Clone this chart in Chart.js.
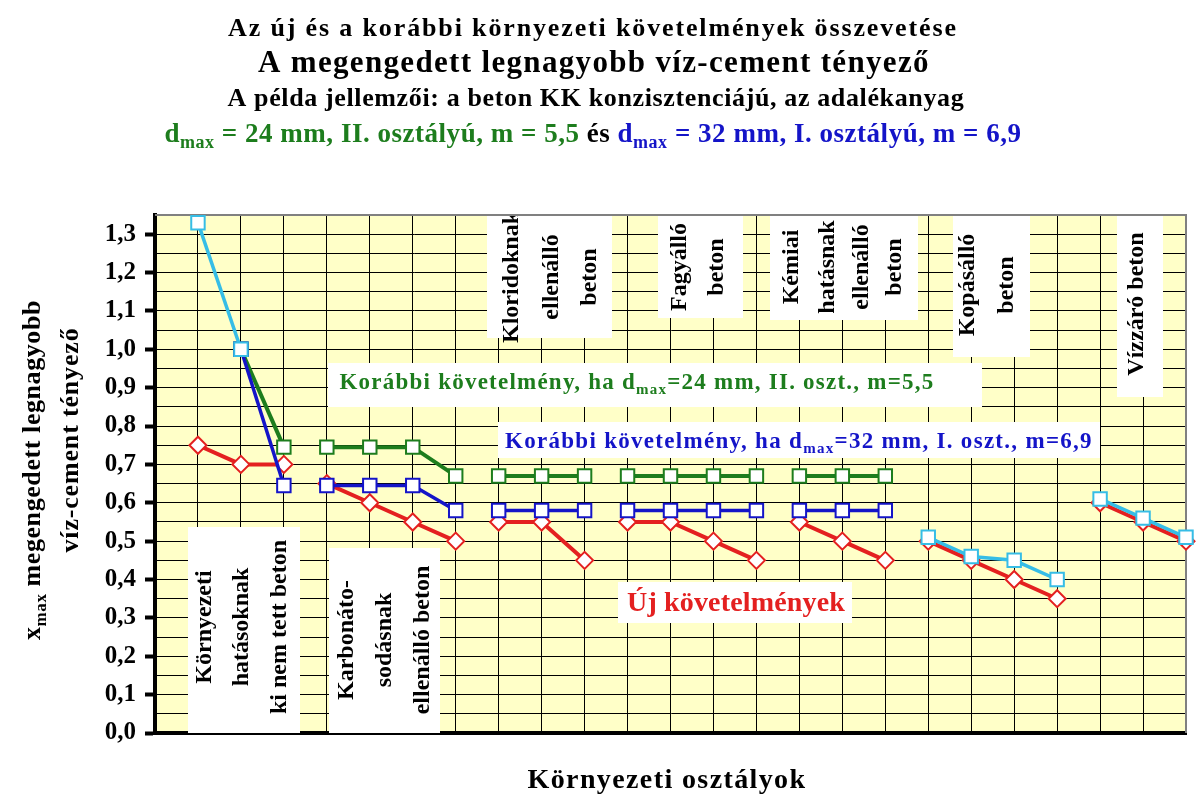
<!DOCTYPE html>
<html lang="hu">
<head>
<meta charset="utf-8">
<title>A megengedett legnagyobb víz-cement tényező</title>
<script src="https://cdn.jsdelivr.net/npm/chart.js@4.4.1/dist/chart.umd.min.js"></script>
<style>
  html, body { margin: 0; padding: 0; background: #fff; }
  canvas { display: block; }
</style>
</head>
<body>
<canvas id="vcChart" width="1201" height="806"></canvas>
<script>
// Környezeti osztályok (a tengelyen nem látszanak, csak a helyüket adják)
const osztalyok = ['X0b', 'X0v', 'XN(H)', 'XC1', 'XC2', 'XC3', 'XC4', 'XD1', 'XD2', 'XD3',
    'XF1', 'XF2', 'XF3', 'XF4', 'XA1', 'XA2', 'XA3', 'XK1', 'XK2', 'XK3', 'XK4', 'XV1', 'XV2', 'XV3'];

// Csoport sorszáma osztályonként - a vonal csak csoporton belül fut
const csoportok = [0, 0, 0, 1, 1, 1, 1, 2, 2, 2, 3, 3, 3, 3, 4, 4, 4, 5, 5, 5, 5, 6, 6, 6];

// Új követelmények
const ujKovetelmenyek = [0.75, 0.70, 0.70, 0.65, 0.60, 0.55, 0.50, 0.55, 0.55, 0.45,
    0.55, 0.55, 0.50, 0.45, 0.55, 0.50, 0.45, 0.50, 0.45, 0.40, 0.35, 0.60, 0.55, 0.50];

// Korábbi követelmény, dmax = 24 mm, II. osztály, m = 5,5
const korabbi24 = [null, 1.00, 0.745, 0.745, 0.745, 0.745, 0.67, 0.67, 0.67, 0.67,
    0.67, 0.67, 0.67, 0.67, 0.67, 0.67, 0.67, null, null, null, null, null, null, null];

// Korábbi követelmény, dmax = 32 mm, I. osztály, m = 6,9
const korabbi32 = [null, 1.00, 0.645, 0.645, 0.645, 0.645, 0.58, 0.58, 0.58, 0.58,
    0.58, 0.58, 0.58, 0.58, 0.58, 0.58, 0.58, null, null, null, null, null, null, null];

// Korábbi követelmény, mindkét adalékanyagra közös
const korabbiKozos = [1.33, 1.00, null, null, null, null, null, null, null, null,
    null, null, null, null, null, null, null, 0.51, 0.46, 0.45, 0.40, 0.61, 0.56, 0.51];

// Y tengely feliratai (0,1-enként)
const yFeliratok = ['0,0', '0,1', '0,2', '0,3', '0,4', '0,5', '0,6', '0,7', '0,8', '0,9', '1,0', '1,1', '1,2', '1,3'];

// Csoportfeliratok a fehér dobozokban
const csoportFeliratok = [
    ['Környezeti', 'hatásoknak', 'ki nem tett beton'],
    ['Karbonáto-', 'sodásnak', 'ellenálló beton'],
    ['Kloridoknak', 'ellenálló', 'beton'],
    ['Fagyálló', 'beton'],
    ['Kémiai', 'hatásnak', 'ellenálló', 'beton'],
    ['Kopásálló', 'beton'],
    ['Vízzáró beton']
];

// Színek
const PIROS = '#e42020';
const ZOLD = '#1d7d1d';
const KEK = '#1414c8';
const VILAGOSKEK = '#36bde6';

// Feliratdobozok helye (pixelben): [bal, felső, jobb, alsó], oszlopok x-e, közép y
const dobozHelyek = [
    { doboz: [188, 527, 300, 733], oszlopok: [205, 242, 280], kozepY: 627 },
    { doboz: [329, 548, 440, 733], oszlopok: [347, 385, 423], kozepY: 640 },
    { doboz: [487, 215, 612, 338], oszlopok: [512, 552, 590], kozepY: 277 },
    { doboz: [658, 215, 743, 318], oszlopok: [680, 717], kozepY: 267 },
    { doboz: [770, 215, 918, 320], oszlopok: [792, 828, 862, 895], kozepY: 267 },
    { doboz: [953, 215, 1030, 357], oszlopok: [968, 1007], kozepY: 285 },
    { doboz: [1117, 215, 1163, 397], oszlopok: [1137], kozepY: 304 }
];

function betu(meret) {
    return 'bold ' + meret + 'px "Liberation Serif", "Times New Roman", serif';
}

// Több darabból álló (színes, alsó indexes) szövegsor, adott szélességre igazítva
function szovegSor(ctx, darabok, kozepX, alapY, meret, celSzelesseg) {
    ctx.save();
    ctx.textAlign = 'left';
    ctx.textBaseline = 'alphabetic';
    ctx.letterSpacing = '0px';
    let termeszetes = 0;
    let betukSzama = 0;
    const szelessegek = darabok.map(d => {
        ctx.font = betu(d.also ? Math.round(meret * 0.65) : meret);
        const w = ctx.measureText(d.t).width;
        termeszetes += w;
        betukSzama += [...d.t].length;
        return w;
    });
    let koz = 0;
    let nyujtas = 1;
    if (celSzelesseg) {
        if (celSzelesseg >= termeszetes) {
            koz = (celSzelesseg - termeszetes) / betukSzama;
        } else {
            nyujtas = celSzelesseg / termeszetes;
        }
    }
    ctx.letterSpacing = koz.toFixed(2) + 'px';
    ctx.translate(kozepX, alapY);
    ctx.scale(nyujtas, 1);
    let x = -(termeszetes + koz * betukSzama) / 2;
    darabok.forEach((d, i) => {
        ctx.font = betu(d.also ? Math.round(meret * 0.65) : meret);
        ctx.fillStyle = d.szin || '#000';
        ctx.fillText(d.t, x, d.also ? meret * 0.22 : 0);
        x += szelessegek[i] + koz * [...d.t].length;
    });
    ctx.restore();
}

// Háttér a rajzterületen
const hatterPlugin = {
    id: 'hatter',
    beforeDraw(chart) {
        const { ctx, chartArea: a } = chart;
        ctx.save();
        ctx.fillStyle = '#ffffc8';
        ctx.fillRect(a.left, a.top, a.right - a.left, a.bottom - a.top);
        ctx.restore();
    }
};

// Fehér dobozok, feliratok és a szürke keret
const feliratPlugin = {
    id: 'feliratok',
    beforeDatasetsDraw(chart) {
        const { ctx, chartArea: a } = chart;
        ctx.save();
        ctx.beginPath();
        ctx.rect(a.left, a.top, a.right - a.left, a.bottom - a.top);
        ctx.clip();

        // Függőleges csoportfeliratok
        dobozHelyek.forEach((hely, i) => {
            const [b, f, j, l] = hely.doboz;
            ctx.fillStyle = '#fff';
            ctx.fillRect(b, f, j - b, l - f);
            ctx.fillStyle = '#000';
            ctx.font = betu(24);
            ctx.textAlign = 'center';
            ctx.textBaseline = 'middle';
            csoportFeliratok[i].forEach((sor, k) => {
                ctx.save();
                ctx.translate(hely.oszlopok[k], hely.kozepY);
                ctx.rotate(-Math.PI / 2);
                ctx.fillText(sor, 0, 0);
                ctx.restore();
            });
        });

        // Vízszintes jelmagyarázat-dobozok
        ctx.fillStyle = '#fff';
        ctx.fillRect(328, 363, 982 - 328, 407 - 363);
        ctx.fillRect(498, 422, 1100 - 498, 458 - 422);
        ctx.fillRect(618, 582, 852 - 618, 623 - 582);
        ctx.restore();

        szovegSor(ctx, [
            { t: 'Korábbi követelmény, ha d', szin: ZOLD },
            { t: 'max', szin: ZOLD, also: true },
            { t: '=24 mm, II. oszt., m=5,5', szin: ZOLD }
        ], 637, 389, 23, 595);
        szovegSor(ctx, [
            { t: 'Korábbi követelmény, ha d', szin: KEK },
            { t: 'max', szin: KEK, also: true },
            { t: '=32 mm, I. oszt., m=6,9', szin: KEK }
        ], 799, 448, 23, 588);
        szovegSor(ctx, [{ t: 'Új követelmények', szin: PIROS }], 736, 611, 28, 218);

        // Szürke keret felül és jobbra
        ctx.save();
        ctx.strokeStyle = '#808080';
        ctx.lineWidth = 2;
        ctx.beginPath();
        ctx.moveTo(a.left, a.top);
        ctx.lineTo(a.right, a.top);
        ctx.lineTo(a.right, a.bottom);
        ctx.stroke();
        ctx.restore();
    },
    afterDraw(chart) {
        const ctx = chart.ctx;
        // Címsorok
        szovegSor(ctx, [{ t: 'Az új és a korábbi környezeti követelmények összevetése' }], 593, 36, 26, 730);
        szovegSor(ctx, [{ t: 'A megengedett legnagyobb víz-cement tényező' }], 594, 72, 31, 672);
        szovegSor(ctx, [{ t: 'A példa jellemzői: a beton KK konzisztenciájú, az adalékanyag' }], 596, 106, 26, 737);
        szovegSor(ctx, [
            { t: 'd', szin: ZOLD },
            { t: 'max', szin: ZOLD, also: true },
            { t: ' = 24 mm, II. osztályú, m = 5,5', szin: ZOLD },
            { t: ' és ', szin: '#000' },
            { t: 'd', szin: KEK },
            { t: 'max', szin: KEK, also: true },
            { t: ' = 32 mm, I. osztályú, m = 6,9', szin: KEK }
        ], 593, 142, 27, 857);

        // X tengely címe
        szovegSor(ctx, [{ t: 'Környezeti osztályok' }], 667, 788, 28, 279);

        // Y tengely címe (két sor, elforgatva)
        ctx.save();
        ctx.translate(40, 470);
        ctx.rotate(-Math.PI / 2);
        szovegSor(ctx, [
            { t: 'x' },
            { t: 'max', also: true },
            { t: ' megengedett legnagyobb' }
        ], 0, 0, 26, 340);
        ctx.restore();
        ctx.save();
        ctx.translate(78, 440);
        ctx.rotate(-Math.PI / 2);
        szovegSor(ctx, [{ t: 'víz-cement tényező' }], 0, 0, 26, 225);
        ctx.restore();
    }
};

// Adatsor: az első (üres) hely a bal szél, utána az osztályok
function sor(ertekek) {
    return [null].concat(ertekek);
}

// Vonal csak egy csoporton belül
function szakasz(szin) {
    return ctx => {
        const c0 = csoportok[ctx.p0DataIndex - 1];
        const c1 = csoportok[ctx.p1DataIndex - 1];
        return c0 === c1 ? szin : 'rgba(0,0,0,0)';
    };
}

function adatsor(cimke, ertekek, szin, vastagsag, alak, sugar) {
    return {
        label: cimke,
        data: sor(ertekek),
        borderColor: szin,
        borderWidth: vastagsag,
        backgroundColor: '#fff',
        pointStyle: alak,
        pointRadius: sugar,
        pointBorderWidth: 2,
        pointBorderColor: szin,
        pointBackgroundColor: '#fff',
        spanGaps: false,
        tension: 0,
        clip: false,
        segment: { borderColor: szakasz(szin) }
    };
}

function rajzol() {
    console.log('Grafikon rajzolása...');
    try {
        const canvas = document.getElementById('vcChart');
        const ctx = canvas.getContext('2d');

        new Chart(ctx, {
            type: 'line',
            data: {
                labels: [''].concat(osztalyok),
                datasets: [
                    adatsor('Korábbi követelmény (közös)', korabbiKozos, VILAGOSKEK, 3.5, 'rect', 9.5),
                    adatsor('Korábbi követelmény, dmax=32 mm', korabbi32, KEK, 3.5, 'rect', 9.5),
                    adatsor('Korábbi követelmény, dmax=24 mm', korabbi24, ZOLD, 4, 'rect', 9.5),
                    adatsor('Új követelmények', ujKovetelmenyek, PIROS, 4, 'rectRot', 8.5)
                ]
            },
            options: {
                responsive: false,
                animation: false,
                layout: { padding: { top: 215, right: 15, left: 0, bottom: 0 } },
                plugins: {
                    legend: { display: false },
                    tooltip: { enabled: false },
                    title: { display: false }
                },
                scales: {
                    x: {
                        type: 'category',
                        offset: false,
                        ticks: { display: false },
                        grid: { color: '#000', lineWidth: 1, drawTicks: false },
                        border: { color: '#000', width: 4 },
                        afterFit: scale => { scale.height = 73; }
                    },
                    y: {
                        min: 0,
                        max: 1.35,
                        ticks: {
                            stepSize: 0.05,
                            autoSkip: false,
                            padding: 9,
                            color: '#000',
                            font: { family: '"Liberation Serif", "Times New Roman", serif', size: 25, weight: 'bold' },
                            callback: (value, index) => index % 2 === 0 ? yFeliratok[index / 2] : ''
                        },
                        grid: {
                            color: '#000',
                            lineWidth: 1,
                            tickLength: 10,
                            tickWidth: 4,
                            tickColor: c => c.index % 2 === 0 ? '#000' : 'rgba(0,0,0,0)'
                        },
                        border: { color: '#000', width: 4 },
                        afterFit: scale => { scale.width = 155; }
                    }
                }
            },
            plugins: [hatterPlugin, feliratPlugin]
        });
        console.log('Grafikon kész');
    } catch (e) {
        console.error('Hiba a grafikon rajzolásakor:', e);
    }
}

rajzol();
</script>
</body>
</html>
